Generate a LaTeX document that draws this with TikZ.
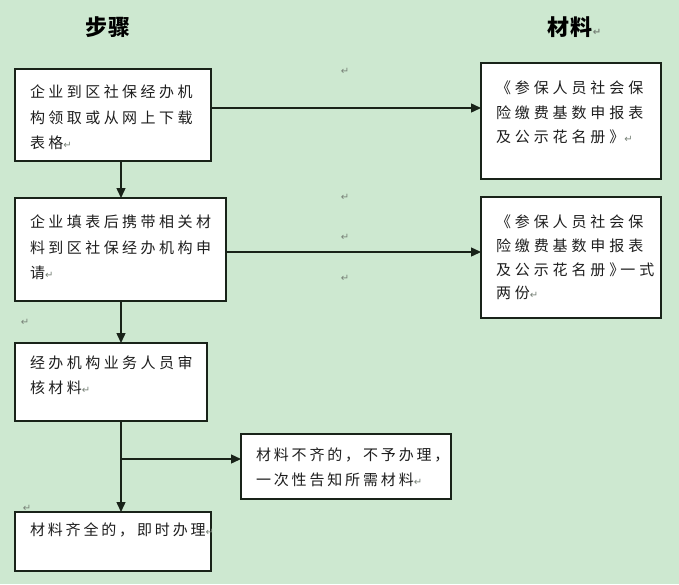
\documentclass[tikz,border=0pt]{standalone}
\usepackage{fontspec}
\usetikzlibrary{arrows.meta}
\newfontfamily\cjkA[LetterSpace=23]{Noto Sans CJK SC}
\newfontfamily\cjkB[LetterSpace=19]{Noto Sans CJK SC}
\newfontfamily\cjkC[LetterSpace=26]{Noto Sans CJK SC}
\newfontfamily\cjkt[LetterSpace=8]{Noto Sans CJK SC}
\newfontfamily\dvfont{DejaVu Sans}
\definecolor{bgc}{RGB}{205,232,208}
\definecolor{linec}{RGB}{25,35,25}
\definecolor{textc}{RGB}{30,30,30}
\definecolor{markc}{RGB}{120,130,120}
\newcommand\parmark{{\dvfont\fontsize{10}{10}\selectfont\color{markc}↵}}
% #1 font, #2 height, #3 width, #4 first baseline, #5 baselineskip, #6 text
\newcommand\bt[6]{\parbox[c][#2][t]{#3}{\raggedright#1\fontsize{15}{#5}\selectfont\color{textc}\rule{0pt}{#4}#6}}
\tikzset{
  box/.style={draw=linec, fill=white, line width=1.3pt, inner xsep=15pt, inner ysep=0pt, anchor=north west, outer sep=0pt},
  arr/.style={draw=linec, line width=1.4pt, -{Triangle[length=10pt,width=9pt]}},
  ttl/.style={inner sep=0pt, text=black},
  mk/.style={inner sep=0pt}
}
\begin{document}
\begin{tikzpicture}[x=1pt,y=-1pt]
\fill[bgc] (0,0) rectangle (679,584);
\useasboundingbox (0,0) rectangle (679,584);

% titles
\node[ttl] (t1) at (108,27) {\cjkt\bfseries\fontsize{22}{22}\selectfont 步骤};
\node[ttl, anchor=west] (t2) at (547,27) {\cjkt\bfseries\fontsize{22}{22}\selectfont 材料\parmark};

% left column boxes
\node[box] (b1) at (15,69) {\bt{\cjkA}{92pt}{166pt}{28.7pt}{25.5pt}{企业到区社保经办机\\构领取或从网上下载\\表格\parmark}};
\node[box] (b2) at (15,198) {\bt{\cjkA}{103pt}{181pt}{29.7pt}{25.5pt}{企业填表后携带相关材\\料到区社保经办机构申\\请\parmark}};
\node[box] (b3) at (15,343) {\bt{\cjkA}{78pt}{162pt}{25.7pt}{25pt}{经办机构业务人员审\\核材料\parmark}};
\node[box] (b4) at (241,434) {\bt{\cjkB}{65pt}{180pt}{26.7pt}{25pt}{材料不齐的，不予办理，\\一次性告知所需材料\parmark}};
\node[box] (b5) at (15,512) {\bt{\cjkB}{59pt}{166pt}{23.7pt}{25pt}{材料齐全的，即时办理\parmark}};

% right column boxes
\node[box] (ra) at (481,63) {\bt{\cjkC}{116pt}{150pt}{30.7pt}{24.5pt}{《参保人员社会保\\险缴费基数申报表\\及公示花名册》\parmark}};
\node[box] (rb) at (481,197) {\bt{\cjkC}{121pt}{150pt}{30.7pt}{23.7pt}{《参保人员社会保\\险缴费基数申报表\\及公示花名册》\kern-4pt 一式\\两份\parmark}};

% helper coordinates
\coordinate (col) at (121,0);
\coordinate (row1) at (0,108);
\coordinate (row2) at (0,252);
\coordinate (split) at (121,459);

% connectors
\draw[arr] (b1.south -| col) -- (b2.north -| col);
\draw[arr] (b2.south -| col) -- (b3.north -| col);
\draw[arr] (b3.south -| col) -- (b5.north -| col);
\draw[arr] (split) -- (b4.west |- split);
\draw[arr] (b1.east |- row1) -- (ra.west |- row1);
\draw[arr] (b2.east |- row2) -- (rb.west |- row2);

% stray paragraph marks
\node[mk] (m1) at (345,71) {\parmark};
\node[mk] (m2) at (345,197) {\parmark};
\node[mk] (m3) at (345,237) {\parmark};
\node[mk] (m4) at (345,278) {\parmark};
\node[mk] (m5) at (25,322) {\parmark};
\node[mk] (m6) at (27,508) {\parmark};
\end{tikzpicture}
\end{document}
